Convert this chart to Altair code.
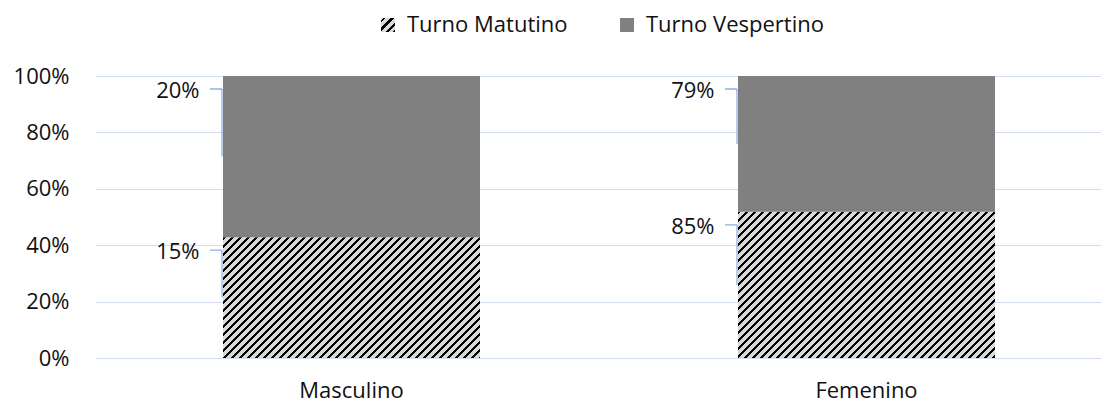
import json
import altair as alt
import pandas as pd

# ---- data -------------------------------------------------------------
categories = ["Masculino", "Femenino"]
series = ["Turno Matutino", "Turno Vespertino"]
matutino = [15, 85]
vespertino = [20, 79]
y_ticks = [0, 0.2, 0.4, 0.6, 0.8, 1.0]

rows = []
for i, c in enumerate(categories):
    rows.append({"cat": c, "serie": series[0], "value": matutino[i], "ord": 0})
    rows.append({"cat": c, "serie": series[1], "value": vespertino[i], "ord": 1})
df = pd.DataFrame(rows)

# ---- style ------------------------------------------------------------
PLOT_W, PLOT_H, BAR_W = 1006, 282, 257
FONT = "Open Sans"
FS = 22
TXT = "#111111"
GRID = "#d2def0"
LEADER = "#8fb1dd"
DARK, LIGHT = "#000000", "#d9d9d9"
GRAY = "#808080"


def hatch(w, h, period=8.0, dark=3.0, phase=0.0):
    """Diagonal '/' stripes as a hard-stop linear gradient (bbox units)."""
    L = w + h
    stops = []
    pos = phase - period
    while pos < L:
        for off, col in ((pos, DARK), (pos + dark, DARK), (pos + dark, LIGHT), (pos + period, LIGHT)):
            o = min(max(off / L, 0.0), 1.0)
            stops.append({"offset": round(o, 5), "color": col})
        pos += period
    k = (w + h) / (w * w + h * h)
    return {"gradient": "linear", "x1": 0, "y1": 0, "x2": round(k * w, 5), "y2": round(k * h, 5), "stops": stops}


hA = PLOT_H * matutino[0] / (matutino[0] + vespertino[0])
hB = PLOT_H * matutino[1] / (matutino[1] + vespertino[1])
gradA = hatch(BAR_W, hA)
gradB = hatch(BAR_W, hB)
gradLegend = hatch(14, 14, phase=2)
legend_expr = json.dumps(gradLegend)

# ---- chart ------------------------------------------------------------
base = (
    alt.Chart(df)
    .transform_joinaggregate(total="sum(value)", groupby=["cat"])
    .transform_calculate(frac="datum.value / datum.total", label="datum.value + '%'")
    .transform_stack(stack="frac", groupby=["cat"], as_=["y0", "y1"],
                     sort=[alt.SortField("ord", order="ascending")])
    .transform_calculate(mid="(datum.y0 + datum.y1) / 2")
)

xaxis = alt.Axis(title=None, domain=False, ticks=False, grid=False, labelAngle=0,
                 labelPadding=22, labelFontSize=FS, labelFont=FONT, labelColor=TXT)
yaxis = alt.Axis(title=None, format="%", values=y_ticks, domain=False, ticks=False, grid=True,
                 gridColor=GRID, gridWidth=1, labelPadding=26, labelFontSize=FS,
                 labelFont=FONT, labelColor=TXT)
xscale = alt.Scale(paddingInner=0.501, paddingOuter=0.2272, align=0.547)
yscale = alt.Scale(domain=[0, 1], nice=False)


def X():
    return alt.X("cat:N", sort=categories, scale=xscale, axis=xaxis)


def Y(field):
    return alt.Y(f"{field}:Q", scale=yscale, axis=yaxis)


barA = base.transform_filter("datum.cat == 'Masculino' && datum.ord == 0").mark_bar(
    fill=gradA).encode(x=X(), y=Y("y0"), y2="y1")
barB = base.transform_filter("datum.cat == 'Femenino' && datum.ord == 0").mark_bar(
    fill=gradB).encode(x=X(), y=Y("y0"), y2="y1")
barV = base.transform_filter("datum.ord == 1").mark_bar().encode(
    x=X(), y=Y("y0"), y2="y1",
    fill=alt.Fill("serie:N",
                  scale=alt.Scale(domain=series, range=[{"expr": legend_expr}, GRAY]),
                  legend=alt.Legend(title=None, orient="none", legendX=282, legendY=-62,
                                    direction="horizontal", symbolType="square",
                                    symbolSize=196, symbolStrokeWidth=0,
                                    labelFontSize=FS, labelFont=FONT, labelColor=TXT,
                                    labelOffset=8, columnPadding=48, padding=0,
                                    labelLimit=400)),
)

# horizontal leader pieces: zero-height stroked rects, 12px wide
lead_h = base.mark_bar(width=12, xOffset=-135.5, yOffset=13, y2Offset=13,
                       fill=None, stroke=LEADER, strokeWidth=1.3).encode(
    x=X(), y=Y("y1"), y2="y1")
lead_v = base.mark_rule(xOffset=-129.5, yOffset=13, color=LEADER, strokeWidth=1.3).encode(
    x=X(), y=Y("y1"), y2="mid")
labels = base.mark_text(align="right", baseline="middle", xOffset=-152, yOffset=15,
                        fontSize=FS, font=FONT, color=TXT).encode(
    x=X(), y=Y("y1"), text="label:N")

chart = (
    alt.layer(barA, barB, barV, lead_h, lead_v, labels)
    .properties(width=PLOT_W, height=PLOT_H, background="white",
                autosize=alt.AutoSizeParams(type="none"),
                padding={"left": 87, "top": 68, "right": 0, "bottom": 50})
    .configure_view(stroke=None)
)

chart.save("out.html", embed_options={"renderer": "svg", "actions": False})
